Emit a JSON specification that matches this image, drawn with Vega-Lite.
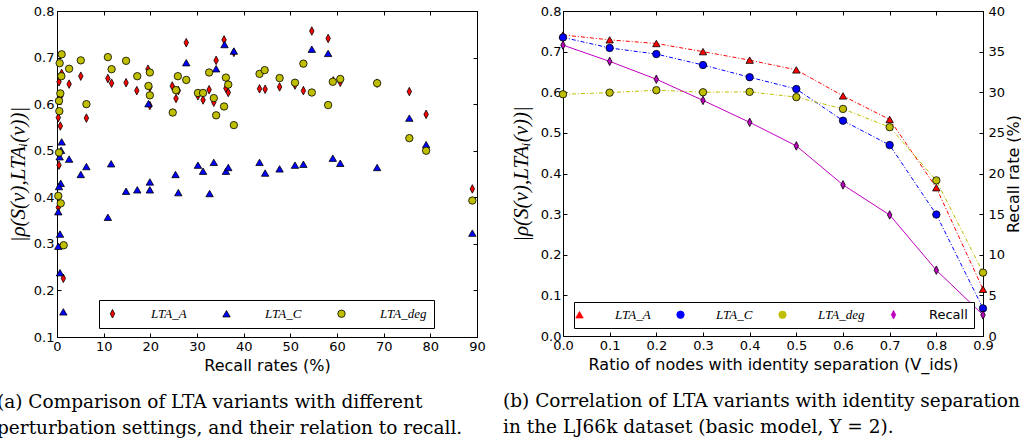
{
  "$schema": "https://vega.github.io/schema/vega-lite/v6.json",
  "background": "white",
  "padding": {"left": -4, "top": 4, "right": 0, "bottom": 0},
  "spacing": 16,
  "datasets": {
    "left": [
      {"s": "LTA_A", "r": 0.43, "c": 0.648}, {"s": "LTA_A", "r": 1.0, "c": 0.666}, {"s": "LTA_A", "r": 0.8, "c": 0.617},
      {"s": "LTA_A", "r": 0.28, "c": 0.571}, {"s": "LTA_A", "r": 0.71, "c": 0.553}, {"s": "LTA_A", "r": 0.43, "c": 0.469},
      {"s": "LTA_A", "r": 0.28, "c": 0.378}, {"s": "LTA_A", "r": 1.36, "c": 0.226}, {"s": "LTA_A", "r": 2.6, "c": 0.643},
      {"s": "LTA_A", "r": 5.1, "c": 0.66}, {"s": "LTA_A", "r": 6.3, "c": 0.57}, {"s": "LTA_A", "r": 10.9, "c": 0.655},
      {"s": "LTA_A", "r": 11.7, "c": 0.645}, {"s": "LTA_A", "r": 14.8, "c": 0.646}, {"s": "LTA_A", "r": 17.1, "c": 0.629},
      {"s": "LTA_A", "r": 19.5, "c": 0.675}, {"s": "LTA_A", "r": 19.9, "c": 0.636}, {"s": "LTA_A", "r": 19.9, "c": 0.597},
      {"s": "LTA_A", "r": 24.7, "c": 0.639}, {"s": "LTA_A", "r": 25.5, "c": 0.612}, {"s": "LTA_A", "r": 26.0, "c": 0.629},
      {"s": "LTA_A", "r": 27.7, "c": 0.732}, {"s": "LTA_A", "r": 30.2, "c": 0.618}, {"s": "LTA_A", "r": 31.3, "c": 0.609},
      {"s": "LTA_A", "r": 32.6, "c": 0.631}, {"s": "LTA_A", "r": 33.6, "c": 0.604}, {"s": "LTA_A", "r": 34.1, "c": 0.694},
      {"s": "LTA_A", "r": 35.8, "c": 0.738}, {"s": "LTA_A", "r": 36.2, "c": 0.634}, {"s": "LTA_A", "r": 36.7, "c": 0.625},
      {"s": "LTA_A", "r": 37.9, "c": 0.711}, {"s": "LTA_A", "r": 43.4, "c": 0.633}, {"s": "LTA_A", "r": 44.6, "c": 0.632},
      {"s": "LTA_A", "r": 47.7, "c": 0.637}, {"s": "LTA_A", "r": 51.0, "c": 0.641}, {"s": "LTA_A", "r": 52.8, "c": 0.629},
      {"s": "LTA_A", "r": 54.6, "c": 0.757}, {"s": "LTA_A", "r": 58.1, "c": 0.741}, {"s": "LTA_A", "r": 59.2, "c": 0.65},
      {"s": "LTA_A", "r": 60.7, "c": 0.647}, {"s": "LTA_A", "r": 68.6, "c": 0.645}, {"s": "LTA_A", "r": 75.5, "c": 0.627},
      {"s": "LTA_A", "r": 79.1, "c": 0.578}, {"s": "LTA_A", "r": 89.0, "c": 0.418},
      {"s": "LTA_C", "r": 1.0, "c": 0.519}, {"s": "LTA_C", "r": 0.86, "c": 0.501}, {"s": "LTA_C", "r": 0.57, "c": 0.487},
      {"s": "LTA_C", "r": 0.8, "c": 0.43}, {"s": "LTA_C", "r": 0.43, "c": 0.423}, {"s": "LTA_C", "r": 0.28, "c": 0.369},
      {"s": "LTA_C", "r": 0.64, "c": 0.321}, {"s": "LTA_C", "r": 0.28, "c": 0.295}, {"s": "LTA_C", "r": 0.64, "c": 0.238},
      {"s": "LTA_C", "r": 1.36, "c": 0.154}, {"s": "LTA_C", "r": 2.6, "c": 0.482}, {"s": "LTA_C", "r": 5.1, "c": 0.449},
      {"s": "LTA_C", "r": 6.3, "c": 0.466}, {"s": "LTA_C", "r": 10.9, "c": 0.357}, {"s": "LTA_C", "r": 11.6, "c": 0.472},
      {"s": "LTA_C", "r": 14.8, "c": 0.413}, {"s": "LTA_C", "r": 17.2, "c": 0.416}, {"s": "LTA_C", "r": 19.6, "c": 0.601},
      {"s": "LTA_C", "r": 19.9, "c": 0.433}, {"s": "LTA_C", "r": 19.9, "c": 0.416}, {"s": "LTA_C", "r": 25.4, "c": 0.449},
      {"s": "LTA_C", "r": 26.0, "c": 0.41}, {"s": "LTA_C", "r": 27.7, "c": 0.689}, {"s": "LTA_C", "r": 30.2, "c": 0.469},
      {"s": "LTA_C", "r": 31.3, "c": 0.456}, {"s": "LTA_C", "r": 32.7, "c": 0.408}, {"s": "LTA_C", "r": 33.6, "c": 0.475},
      {"s": "LTA_C", "r": 34.1, "c": 0.676}, {"s": "LTA_C", "r": 35.9, "c": 0.728}, {"s": "LTA_C", "r": 36.2, "c": 0.456},
      {"s": "LTA_C", "r": 36.7, "c": 0.464}, {"s": "LTA_C", "r": 37.9, "c": 0.714}, {"s": "LTA_C", "r": 43.4, "c": 0.475},
      {"s": "LTA_C", "r": 44.6, "c": 0.452}, {"s": "LTA_C", "r": 47.7, "c": 0.461}, {"s": "LTA_C", "r": 51.0, "c": 0.469},
      {"s": "LTA_C", "r": 52.8, "c": 0.471}, {"s": "LTA_C", "r": 54.6, "c": 0.718}, {"s": "LTA_C", "r": 58.1, "c": 0.709},
      {"s": "LTA_C", "r": 59.1, "c": 0.484}, {"s": "LTA_C", "r": 60.7, "c": 0.473}, {"s": "LTA_C", "r": 68.6, "c": 0.464},
      {"s": "LTA_C", "r": 75.5, "c": 0.57}, {"s": "LTA_C", "r": 79.1, "c": 0.513}, {"s": "LTA_C", "r": 89.0, "c": 0.323},
      {"s": "LTA_deg", "r": 1.0, "c": 0.707}, {"s": "LTA_deg", "r": 0.57, "c": 0.688}, {"s": "LTA_deg", "r": 0.93, "c": 0.66},
      {"s": "LTA_deg", "r": 0.71, "c": 0.623}, {"s": "LTA_deg", "r": 0.43, "c": 0.607}, {"s": "LTA_deg", "r": 0.5, "c": 0.585},
      {"s": "LTA_deg", "r": 0.43, "c": 0.496}, {"s": "LTA_deg", "r": 0.28, "c": 0.403}, {"s": "LTA_deg", "r": 0.8, "c": 0.387},
      {"s": "LTA_deg", "r": 1.43, "c": 0.297}, {"s": "LTA_deg", "r": 2.6, "c": 0.676}, {"s": "LTA_deg", "r": 5.1, "c": 0.694},
      {"s": "LTA_deg", "r": 6.3, "c": 0.6}, {"s": "LTA_deg", "r": 10.9, "c": 0.701}, {"s": "LTA_deg", "r": 11.7, "c": 0.675},
      {"s": "LTA_deg", "r": 14.8, "c": 0.693}, {"s": "LTA_deg", "r": 17.2, "c": 0.66}, {"s": "LTA_deg", "r": 19.6, "c": 0.639},
      {"s": "LTA_deg", "r": 19.9, "c": 0.668}, {"s": "LTA_deg", "r": 19.9, "c": 0.619}, {"s": "LTA_deg", "r": 24.8, "c": 0.582},
      {"s": "LTA_deg", "r": 25.5, "c": 0.63}, {"s": "LTA_deg", "r": 25.9, "c": 0.66}, {"s": "LTA_deg", "r": 27.7, "c": 0.652},
      {"s": "LTA_deg", "r": 30.2, "c": 0.624}, {"s": "LTA_deg", "r": 31.3, "c": 0.624}, {"s": "LTA_deg", "r": 32.6, "c": 0.668},
      {"s": "LTA_deg", "r": 33.6, "c": 0.613}, {"s": "LTA_deg", "r": 34.1, "c": 0.576}, {"s": "LTA_deg", "r": 35.8, "c": 0.595},
      {"s": "LTA_deg", "r": 36.2, "c": 0.657}, {"s": "LTA_deg", "r": 36.7, "c": 0.642}, {"s": "LTA_deg", "r": 37.9, "c": 0.555},
      {"s": "LTA_deg", "r": 43.4, "c": 0.665}, {"s": "LTA_deg", "r": 44.5, "c": 0.673}, {"s": "LTA_deg", "r": 47.7, "c": 0.656},
      {"s": "LTA_deg", "r": 51.0, "c": 0.646}, {"s": "LTA_deg", "r": 52.8, "c": 0.687}, {"s": "LTA_deg", "r": 54.6, "c": 0.625},
      {"s": "LTA_deg", "r": 58.1, "c": 0.598}, {"s": "LTA_deg", "r": 59.1, "c": 0.648}, {"s": "LTA_deg", "r": 60.7, "c": 0.654},
      {"s": "LTA_deg", "r": 68.6, "c": 0.645}, {"s": "LTA_deg", "r": 75.5, "c": 0.527}, {"s": "LTA_deg", "r": 79.1, "c": 0.5},
      {"s": "LTA_deg", "r": 89.0, "c": 0.393}
    ],
    "right": [
      {"s": "LTA_A", "v": 0.0, "c": 0.741}, {"s": "LTA_A", "v": 0.1, "c": 0.729}, {"s": "LTA_A", "v": 0.2, "c": 0.72},
      {"s": "LTA_A", "v": 0.3, "c": 0.7}, {"s": "LTA_A", "v": 0.4, "c": 0.679}, {"s": "LTA_A", "v": 0.5, "c": 0.655},
      {"s": "LTA_A", "v": 0.6, "c": 0.591}, {"s": "LTA_A", "v": 0.7, "c": 0.533}, {"s": "LTA_A", "v": 0.8, "c": 0.365},
      {"s": "LTA_A", "v": 0.9, "c": 0.115},
      {"s": "LTA_C", "v": 0.0, "c": 0.735}, {"s": "LTA_C", "v": 0.1, "c": 0.709}, {"s": "LTA_C", "v": 0.2, "c": 0.694},
      {"s": "LTA_C", "v": 0.3, "c": 0.667}, {"s": "LTA_C", "v": 0.4, "c": 0.637}, {"s": "LTA_C", "v": 0.5, "c": 0.608},
      {"s": "LTA_C", "v": 0.6, "c": 0.53}, {"s": "LTA_C", "v": 0.7, "c": 0.47}, {"s": "LTA_C", "v": 0.8, "c": 0.299},
      {"s": "LTA_C", "v": 0.9, "c": 0.068},
      {"s": "LTA_deg", "v": 0.0, "c": 0.595}, {"s": "LTA_deg", "v": 0.1, "c": 0.599}, {"s": "LTA_deg", "v": 0.2, "c": 0.605},
      {"s": "LTA_deg", "v": 0.3, "c": 0.6}, {"s": "LTA_deg", "v": 0.4, "c": 0.601}, {"s": "LTA_deg", "v": 0.5, "c": 0.588},
      {"s": "LTA_deg", "v": 0.6, "c": 0.559}, {"s": "LTA_deg", "v": 0.7, "c": 0.514}, {"s": "LTA_deg", "v": 0.8, "c": 0.383},
      {"s": "LTA_deg", "v": 0.9, "c": 0.156},
      {"s": "Recall", "v": 0.0, "rr": 35.8}, {"s": "Recall", "v": 0.1, "rr": 33.8}, {"s": "Recall", "v": 0.2, "rr": 31.6},
      {"s": "Recall", "v": 0.3, "rr": 29.0}, {"s": "Recall", "v": 0.4, "rr": 26.3}, {"s": "Recall", "v": 0.5, "rr": 23.4},
      {"s": "Recall", "v": 0.6, "rr": 18.6}, {"s": "Recall", "v": 0.7, "rr": 14.9}, {"s": "Recall", "v": 0.8, "rr": 8.1},
      {"s": "Recall", "v": 0.9, "rr": 2.6}
    ]
  },
  "hconcat": [
    {
      "width": 420,
      "height": 326,
      "data": {"name": "left"},
      "title": {
        "text": ["(a) Comparison of LTA variants with different", "perturbation settings, and their relation to recall."],
        "orient": "bottom", "anchor": "start", "frame": "group", "dx": -60, "offset": 20,
        "font": "DejaVu Serif", "fontSize": 18.5, "fontWeight": "normal", "lineHeight": 26, "color": "black"
      },
      "layer": [
        {
          "mark": {"type": "point", "filled": true, "opacity": 1, "stroke": "black", "strokeWidth": 0.8, "size": 55},
          "encoding": {
            "x": {"field": "r", "type": "quantitative", "scale": {"domain": [0, 90], "nice": false},
                  "axis": {"values": [0, 10, 20, 30, 40, 50, 60, 70, 80, 90], "title": "Recall rates (%)", "titlePadding": 4}},
            "y": {"field": "c", "type": "quantitative", "scale": {"domain": [0.1, 0.8], "nice": false, "zero": false},
                  "axis": {"values": [0.1, 0.2, 0.3, 0.4, 0.5, 0.6, 0.7, 0.8], "format": ".1f", "title": "|ρ(S(v),LTAᵢ(v))|",
                           "titleFont": "Liberation Serif", "titleFontStyle": "italic", "titleFontSize": 21, "titlePadding": 5}},
            "color": {"field": "s", "type": "nominal",
                      "scale": {"domain": ["LTA_A", "LTA_C", "LTA_deg"], "range": ["#ff0000", "#0000ff", "#bfbf00"]},
                      "legend": {"title": null, "orient": "none", "legendX": 42, "legendY": 289, "direction": "horizontal",
                                 "padding": 7, "strokeColor": "black", "fillColor": "white", "labelOffset": 32, "columnPadding": 33,
                                 "symbolSize": 55, "symbolStrokeColor": "black", "symbolStrokeWidth": 0.8,
                                 "labelFont": "Liberation Serif", "labelFontStyle": "italic", "labelFontSize": 13}},
            "shape": {"field": "s", "type": "nominal",
                      "scale": {"domain": ["LTA_A", "LTA_C", "LTA_deg"], "range": ["M0,-1.15L0.6,0L0,1.15L-0.6,0Z", "triangle-up", "circle"]},
                      "legend": {"title": null, "orient": "none", "legendX": 42, "legendY": 289, "direction": "horizontal",
                                 "padding": 7, "strokeColor": "black", "fillColor": "white", "labelOffset": 32, "columnPadding": 33,
                                 "symbolSize": 55, "symbolStrokeColor": "black", "symbolStrokeWidth": 0.8,
                                 "labelFont": "Liberation Serif", "labelFontStyle": "italic", "labelFontSize": 13}}
          }
        },
        {
          "mark": {"type": "point", "opacity": 0},
          "encoding": {
            "x": {"field": "r", "type": "quantitative",
                  "axis": {"orient": "top", "values": [0, 10, 20, 30, 40, 50, 60, 70, 80, 90], "labels": false, "title": null}},
            "y": {"field": "c", "type": "quantitative",
                  "axis": {"orient": "right", "values": [0.1, 0.2, 0.3, 0.4, 0.5, 0.6, 0.7, 0.8], "labels": false, "title": null}}
          }
        }
      ],
      "resolve": {"axis": {"x": "independent", "y": "independent"}}
    },
    {
      "width": 420,
      "height": 325,
      "data": {"name": "right"},
      "title": {
        "text": ["(b) Correlation of LTA variants with identity separation", "in the LJ66k dataset (basic model, Y = 2)."],
        "orient": "bottom", "anchor": "start", "frame": "group", "dx": -60, "offset": 20,
        "font": "DejaVu Serif", "fontSize": 18.5, "fontWeight": "normal", "lineHeight": 26, "color": "black"
      },
      "layer": [
        {
          "transform": [{"filter": "datum.s !== 'Recall'"}],
          "encoding": {
            "x": {"field": "v", "type": "quantitative", "scale": {"domain": [0, 0.9], "nice": false},
                  "axis": {"values": [0, 0.1, 0.2, 0.3, 0.4, 0.5, 0.6, 0.7, 0.8, 0.9], "format": ".1f",
                           "title": "Ratio of nodes with identity separation (V_ids)", "titlePadding": 4}},
            "y": {"field": "c", "type": "quantitative", "scale": {"domain": [0, 0.8], "nice": false},
                  "axis": {"values": [0, 0.1, 0.2, 0.3, 0.4, 0.5, 0.6, 0.7, 0.8], "format": ".1f", "title": "|ρ(S(v),LTAᵢ(v))|",
                           "titleFont": "Liberation Serif", "titleFontStyle": "italic", "titleFontSize": 21, "titlePadding": 9, "labelPadding": 6}},
            "color": {"field": "s", "type": "nominal",
                      "scale": {"domain": ["LTA_A", "LTA_C", "LTA_deg", "Recall"], "range": ["#ff0000", "#0000ff", "#bfbf00", "#bf00bf"]},
                      "legend": {"title": null, "orient": "none", "legendX": 11, "legendY": 291, "direction": "horizontal",
                                 "padding": 6, "strokeColor": "black", "fillColor": "white", "labelOffset": 29, "columnPadding": 24,
                                 "symbolOffset": -7, "symbolSize": 55, "symbolStrokeColor": "black", "symbolStrokeWidth": 0.8,
                                 "labelFont": "Liberation Serif", "labelFontStyle": "italic", "labelFontSize": 13,
                                 "encode": {"labels": {"update": {
                                   "fontStyle": {"signal": "datum.value === 'Recall' ? 'normal' : 'italic'"},
                                   "font": {"signal": "datum.value === 'Recall' ? 'DejaVu Sans' : 'Liberation Serif'"}}}}}}
          },
          "layer": [
            {"mark": {"type": "line", "strokeWidth": 1, "strokeDash": [4, 2, 1, 2]}, "encoding": {}},
            {"mark": {"type": "point", "filled": true, "opacity": 1, "stroke": "black", "strokeWidth": 0.8, "size": 55},
             "encoding": {
               "shape": {"field": "s", "type": "nominal",
                         "scale": {"domain": ["LTA_A", "LTA_C", "LTA_deg", "Recall"], "range": ["triangle-up", "circle", "circle", "M0,-1.15L0.6,0L0,1.15L-0.6,0Z"]},
                         "legend": {"title": null, "orient": "none", "legendX": 11, "legendY": 291, "direction": "horizontal",
                                    "padding": 6, "strokeColor": "black", "fillColor": "white", "labelOffset": 29, "columnPadding": 24,
                                    "symbolOffset": -7, "symbolSize": 55, "symbolStrokeColor": "black", "symbolStrokeWidth": 0.8,
                                    "labelFont": "Liberation Serif", "labelFontStyle": "italic", "labelFontSize": 13,
                                    "encode": {"labels": {"update": {
                                      "fontStyle": {"signal": "datum.value === 'Recall' ? 'normal' : 'italic'"},
                                      "font": {"signal": "datum.value === 'Recall' ? 'DejaVu Sans' : 'Liberation Serif'"}}}}}}
             }}
          ]
        },
        {
          "transform": [{"filter": "datum.s === 'Recall'"}],
          "encoding": {
            "x": {"field": "v", "type": "quantitative",
                  "axis": {"orient": "top", "values": [0, 0.1, 0.2, 0.3, 0.4, 0.5, 0.6, 0.7, 0.8, 0.9], "labels": false, "title": null}},
            "y": {"field": "rr", "type": "quantitative", "scale": {"domain": [0, 40], "nice": false},
                  "axis": {"orient": "right", "values": [0, 5, 10, 15, 20, 25, 30, 35, 40], "title": "Recall rate (%)",
                           "titleAngle": 270, "titleBaseline": "top", "titlePadding": 1, "labelPadding": 9}},
            "color": {"field": "s", "type": "nominal",
                      "scale": {"domain": ["LTA_A", "LTA_C", "LTA_deg", "Recall"], "range": ["#ff0000", "#0000ff", "#bfbf00", "#bf00bf"]}}
          },
          "layer": [
            {"mark": {"type": "line", "strokeWidth": 1}, "encoding": {}},
            {"mark": {"type": "point", "filled": true, "opacity": 1, "stroke": "black", "strokeWidth": 0.8, "size": 55},
             "encoding": {
               "shape": {"field": "s", "type": "nominal",
                         "scale": {"domain": ["LTA_A", "LTA_C", "LTA_deg", "Recall"], "range": ["triangle-up", "circle", "circle", "M0,-1.15L0.6,0L0,1.15L-0.6,0Z"]}}
             }}
          ]
        }
      ],
      "resolve": {"scale": {"y": "independent"}, "axis": {"x": "independent", "y": "independent"}}
    }
  ],
  "resolve": {"scale": {"color": "independent", "shape": "independent"}, "legend": {"color": "independent", "shape": "independent"}},
  "config": {
    "view": {"stroke": "black", "strokeWidth": 1},
    "axis": {
      "grid": false, "domainColor": "black", "domainWidth": 1, "tickColor": "black", "tickSize": -4, "tickWidth": 1,
      "labelColor": "black", "titleColor": "black", "labelFont": "DejaVu Sans", "labelFontSize": 13, "labelPadding": 7,
      "labelFlush": false, "titleFont": "DejaVu Sans", "titleFontSize": 16, "titleFontWeight": "normal"
    },
    "legend": {"labelColor": "black", "labelLimit": 0}
  }
}
